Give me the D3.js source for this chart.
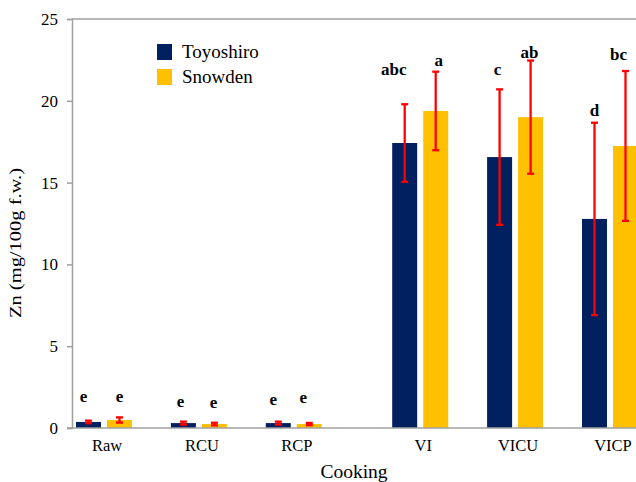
<!DOCTYPE html>
<html>
<head>
<meta charset="utf-8">
<script src="https://cdn.jsdelivr.net/npm/d3@7"></script>
<style>
  body { margin: 0; background: #fff; }
  svg { display: block; }
  svg text { font-family: "Liberation Serif", "Times New Roman", "DejaVu Serif", serif; }
</style>
</head>
<body>
<svg id="chart" width="636" height="482"></svg>
<script>
// data
const categories = ["Raw", "RCU", "RCP", "VI", "VICU", "VICP"];
const seriesNames = ["Toyoshiro", "Snowden"];
const toyoshiro = [0.37, 0.30, 0.30, 17.42, 16.56, 12.78];
const snowden = [0.49, 0.24, 0.24, 19.38, 19.00, 17.24];
const toyoshiroErr = [0.08, 0.09, 0.09, 2.37, 4.14, 5.88];
const snowdenErr = [0.16, 0.08, 0.07, 2.40, 3.46, 4.58];
const toyoshiroLetters = ["e", "e", "e", "abc", "c", "d"];
const snowdenLetters = ["e", "e", "e", "a", "ab", "bc"];
// height (in y units) of the significance letters
const toyoshiroLetterY = [1.6, 1.3, 1.4, 21.6, 21.6, 19.1];
const snowdenLetterY = [1.6, 1.2, 1.55, 22.1, 22.6, 22.5];
const yTicks = [0, 5, 10, 15, 20, 25];

// small horizontal nudges of the letters, as in the original
const toyoshiroLetterDx = [-5, -3, -5, -11, -2, 0];
const snowdenLetterDx = [0, -1, -6, 3, -1, -7];

const colors = ["#002060", "#FFC000"];
const errColor = "#FF0000";
const axisColor = "#A0A0A0";
const serif = "'Liberation Serif', 'Times New Roman', 'DejaVu Serif', serif";

const svg = d3.select("#chart").attr("font-family", serif);
const plotLeft = 72, plotTop = 19, plotBottom = 428, plotRight = 636;

const y = d3.scaleLinear().domain([0, 25]).range([plotBottom, plotTop]);

// group centres: evenly spaced, with an extra gap before the VI groups
const x = d3.scaleLinear().domain([0, 5]).range([104, 578.5]);
const gapShift = 31.5;
const cx = i => x(i) + (i >= 3 ? gapShift : 0);

const barW = 25, offset = 15.5;

const rows = [];
categories.forEach((c, i) => {
  [toyoshiro, snowden].forEach((vals, s) => {
    rows.push({
      cat: c, i, s,
      v: vals[i],
      err: [toyoshiroErr, snowdenErr][s][i],
      letter: [toyoshiroLetters, snowdenLetters][s][i],
      ly: [toyoshiroLetterY, snowdenLetterY][s][i],
      ldx: [toyoshiroLetterDx, snowdenLetterDx][s][i],
      xc: cx(i) + (s === 0 ? -offset : offset)
    });
  });
});

// top line at 25
svg.append("line")
  .attr("x1", plotLeft).attr("x2", plotRight)
  .attr("y1", y(25)).attr("y2", y(25))
  .attr("stroke", axisColor).attr("stroke-width", 1.5);

// y axis
const yAxis = svg.append("g")
  .attr("transform", `translate(${plotLeft},0)`)
  .call(d3.axisLeft(y).tickValues(yTicks).tickSize(5).tickPadding(9))
  .attr("font-family", serif)
  .attr("font-size", 17);
yAxis.select(".domain").attr("stroke", axisColor).attr("stroke-width", 1.5);
yAxis.selectAll(".tick line").attr("stroke", axisColor).attr("stroke-width", 1.5);
yAxis.selectAll(".tick text").attr("fill", "#000");

// bars
svg.selectAll("rect.bar")
  .data(rows)
  .enter()
  .append("rect")
  .attr("class", "bar")
  .attr("x", d => d.xc - barW / 2)
  .attr("y", d => y(d.v))
  .attr("width", barW)
  .attr("height", d => y(0) - y(d.v))
  .attr("fill", d => colors[d.s]);

// x axis line
svg.append("line")
  .attr("x1", plotLeft - 5).attr("x2", plotRight)
  .attr("y1", y(0)).attr("y2", y(0))
  .attr("stroke", axisColor).attr("stroke-width", 1.5);

// error bars
const eb = svg.selectAll("g.err")
  .data(rows)
  .enter()
  .append("g")
  .attr("class", "err")
  .attr("stroke", errColor)
  .attr("stroke-width", 2.3);
eb.append("line")
  .attr("x1", d => d.xc).attr("x2", d => d.xc)
  .attr("y1", d => y(d.v + d.err)).attr("y2", d => y(d.v - d.err));
eb.append("line")
  .attr("x1", d => d.xc - 3.5).attr("x2", d => d.xc + 3.5)
  .attr("y1", d => y(d.v + d.err)).attr("y2", d => y(d.v + d.err));
eb.append("line")
  .attr("x1", d => d.xc - 3.5).attr("x2", d => d.xc + 3.5)
  .attr("y1", d => y(d.v - d.err)).attr("y2", d => y(d.v - d.err));

// significance letters
svg.selectAll("text.letter")
  .data(rows)
  .enter()
  .append("text")
  .attr("class", "letter")
  .attr("x", d => d.xc + d.ldx)
  .attr("y", d => y(d.ly))
  .attr("text-anchor", "middle")
  .attr("font-weight", "bold")
  .attr("font-size", 17)
  .text(d => d.letter);

// category labels
svg.selectAll("text.cat")
  .data(categories)
  .enter()
  .append("text")
  .attr("class", "cat")
  .attr("x", (d, i) => cx(i) + 3)
  .attr("y", 451)
  .attr("text-anchor", "middle")
  .attr("font-size", 16.5)
  .text(d => d);

// axis titles
svg.append("text")
  .attr("x", 354).attr("y", 478)
  .attr("text-anchor", "middle")
  .attr("font-size", 19.5)
  .text("Cooking");

svg.append("text")
  .attr("transform", "translate(21,243) rotate(-90)")
  .attr("text-anchor", "middle")
  .attr("font-size", 16)
  .attr("textLength", 150)
  .attr("lengthAdjust", "spacingAndGlyphs")
  .text("Zn (mg/100g f.w.)");

// legend
const legend = svg.selectAll("g.legend")
  .data(seriesNames)
  .enter()
  .append("g")
  .attr("class", "legend")
  .attr("transform", (d, i) => `translate(157,${44 + i * 25})`);
legend.append("rect")
  .attr("width", 15).attr("height", 16)
  .attr("fill", (d, i) => colors[i]);
legend.append("text")
  .attr("x", 25).attr("y", 14)
  .attr("font-size", 19)
  .text(d => d);
</script>
</body>
</html>
